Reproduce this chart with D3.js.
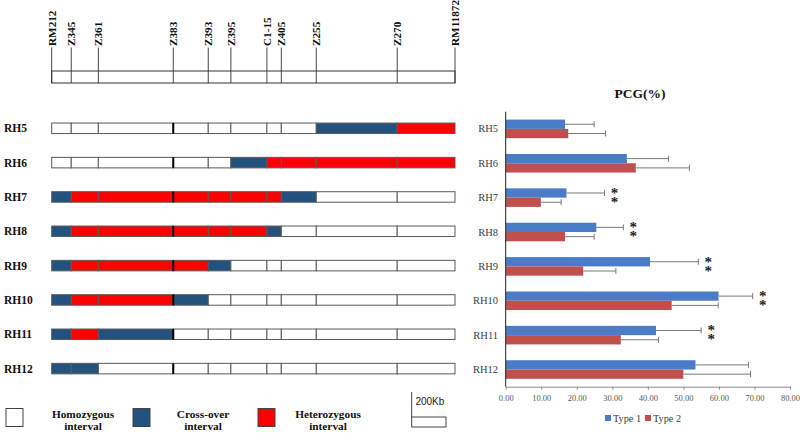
<!DOCTYPE html>
<html><head><meta charset="utf-8">
<script src="https://cdn.jsdelivr.net/npm/d3@7"></script>
<style>body{margin:0;background:#fff}svg{display:block}</style>
</head><body>
<script>
// ---------- data ----------
const markers = ["RM212","Z345","Z361","Z383","Z393","Z395","C1-15","Z405","Z255","Z270","RM11872"];
const markerKb = [0,114,272,709,913,1045,1255,1339,1543,2015,2352];
const rows = ["RH5","RH6","RH7","RH8","RH9","RH10","RH11","RH12"];
// H = homozygous, C = cross-over, E = heterozygous (per interval between markers)
const genotypes = [
  ["H","H","H","H","H","H","H","H","C","E"],
  ["H","H","H","H","H","C","E","E","E","E"],
  ["C","E","E","E","E","E","E","C","H","H"],
  ["C","E","E","E","E","E","C","H","H","H"],
  ["C","E","E","E","C","H","H","H","H","H"],
  ["C","E","E","C","H","H","H","H","H","H"],
  ["C","E","C","H","H","H","H","H","H","H"],
  ["C","C","H","H","H","H","H","H","H","H"]
];
const legendItems = [["H","Homozygous","interval"],["C","Cross-over","interval"],["E","Heterozygous","interval"]];
const scaleKb = 200;
const type1 = [16.7,34.1,17.1,25.5,40.6,59.9,42.3,53.4];
const type1Err = [8.2,11.7,10.7,7.6,13.6,9.6,12.7,14.9];
const type2 = [17.6,36.6,9.9,16.7,21.8,46.7,32.4,50.0];
const type2Err = [10.5,15.1,5.7,8.2,9.2,13.1,10.6,18.9];
const sig = ["","","**","**","**","**","**",""];
const xTicks = [0,10,20,30,40,50,60,70,80];
const seriesNames = ["Type 1","Type 2"];

const W=800,H=434;
const serif = "'Liberation Serif','Times New Roman',serif";
const fillOf = {H:"#ffffff", C:"#23527f", E:"#ff0000"};

const svg = d3.select("body").append("svg").attr("width",W).attr("height",H);

// ---------- genotype map ----------
const gx = d3.scaleLinear().domain([0, d3.max(markerKb)]).range([51.7,455]);

// ruler
const ruler = svg.append("g");
ruler.append("rect").attr("x",gx(0)).attr("y",71).attr("width",gx(d3.max(markerKb))-gx(0)).attr("height",12)
  .attr("fill","#fff").attr("stroke","#333").attr("stroke-width",1);
ruler.selectAll("line.m").data(markerKb).join("line").attr("class","m")
  .attr("x1",d=>gx(d)).attr("x2",d=>gx(d)).attr("y1",47.5).attr("y2",83)
  .attr("stroke","#333").attr("stroke-width",0.9);
ruler.selectAll("text").data(markers).join("text")
  .attr("transform",(d,i)=>`translate(${gx(markerKb[i])+4},46) rotate(-90)`)
  .attr("font-family",serif).attr("font-weight","bold").attr("font-size",11.2)
  .attr("fill","#111").text(d=>d);

// rows
const gy = d3.scalePoint().domain(rows).range([128.3,368.6]);
const segH = 10.5;
rows.forEach((r,ri)=>{
  const g = svg.append("g");
  const segs = genotypes[ri].map((t,i)=>({t, a:markerKb[i], b:markerKb[i+1]}));
  g.selectAll("rect").data(segs).join("rect")
    .attr("x",d=>gx(d.a)).attr("width",d=>gx(d.b)-gx(d.a))
    .attr("y",gy(r)-segH/2).attr("height",segH)
    .attr("fill",d=>fillOf[d.t]).attr("stroke","#5a5a5a").attr("stroke-width",1);
  // thick boundary at Z383
  g.append("line").attr("x1",gx(markerKb[3])).attr("x2",gx(markerKb[3]))
    .attr("y1",gy(r)-segH/2).attr("y2",gy(r)+segH/2).attr("stroke","#000").attr("stroke-width",2);
  g.append("text").attr("x",4).attr("y",gy(r)+4)
    .attr("font-family",serif).attr("font-weight","bold").attr("font-size",11.5).attr("fill","#111").text(r);
});

// legend
const legX = [6,133,258];
const legTextX = [83,203,328];
legendItems.forEach((d,i)=>{
  svg.append("rect").attr("x",legX[i]).attr("y",408.5).attr("width",17).attr("height",18)
    .attr("fill",fillOf[d[0]]).attr("stroke","#444").attr("stroke-width",1);
  const t = svg.append("text").attr("text-anchor","middle").attr("font-family",serif)
    .attr("font-weight","bold").attr("font-size",11.3).attr("fill","#111");
  t.append("tspan").attr("x",legTextX[i]).attr("y",418).text(d[1]);
  t.append("tspan").attr("x",legTextX[i]).attr("y",429.5).text(d[2]);
});
// scale bar
const sbX = 411.7, sbW = gx(scaleKb)-gx(0);
svg.append("rect").attr("x",sbX).attr("y",417).attr("width",sbW).attr("height",10)
  .attr("fill","#fff").attr("stroke","#444");
svg.append("line").attr("x1",sbX).attr("x2",sbX).attr("y1",392).attr("y2",417).attr("stroke","#444");
svg.append("text").attr("x",sbX+sbW/2+1).attr("y",404.5).attr("text-anchor","middle")
  .attr("font-family","'Liberation Sans',Arial,sans-serif").attr("font-size",10).attr("fill","#222").text(scaleKb+"Kb");

// ---------- bar chart ----------
const bx = d3.scaleLinear().domain([0,80]).range([505.7,790]);
const by = d3.scaleBand().domain(rows).range([111.7,386.7]).paddingInner(0.46).paddingOuter(0.23);
const bh = by.bandwidth()/2;
const cBlue="#4a7cc7", cRed="#c0504d", cErr="#7a7a7a";

svg.append("text").attr("x",640).attr("y",98).attr("text-anchor","middle")
  .attr("font-family",serif).attr("font-weight","bold").attr("font-size",13.5).attr("fill","#111").text("PCG(%)");

const series = [
  {name:seriesNames[0], vals:type1, errs:type1Err, color:cBlue, off:0},
  {name:seriesNames[1], vals:type2, errs:type2Err, color:cRed, off:1}
];
series.forEach(s=>{
  const g = svg.append("g");
  g.selectAll("rect").data(rows).join("rect")
    .attr("x",bx(0)).attr("y",d=>by(d)+s.off*bh)
    .attr("width",(d,i)=>bx(s.vals[i])-bx(0)).attr("height",bh).attr("fill",s.color);
  g.selectAll("line.e").data(rows).join("line").attr("class","e")
    .attr("x1",(d,i)=>bx(s.vals[i])).attr("x2",(d,i)=>bx(s.vals[i]+s.errs[i]))
    .attr("y1",d=>by(d)+s.off*bh+bh/2).attr("y2",d=>by(d)+s.off*bh+bh/2)
    .attr("stroke",cErr).attr("stroke-width",1);
  g.selectAll("line.c").data(rows).join("line").attr("class","c")
    .attr("x1",(d,i)=>bx(s.vals[i]+s.errs[i])).attr("x2",(d,i)=>bx(s.vals[i]+s.errs[i]))
    .attr("y1",d=>by(d)+s.off*bh+bh/2-3).attr("y2",d=>by(d)+s.off*bh+bh/2+3)
    .attr("stroke",cErr).attr("stroke-width",1);
});

// significance stars: "**" written vertically (upright) so they stack
rows.forEach((r,i)=>{
  if(!sig[i]) return;
  const sx = bx(type1[i]+type1Err[i])+10;
  svg.append("text").attr("x",sx).attr("y",by(r)+bh/2-8)
    .style("writing-mode","vertical-rl").style("text-orientation","upright")
    .style("letter-spacing","-7px")
    .attr("font-family",serif).attr("font-weight","bold").attr("font-size",15).attr("fill","#222")
    .text(sig[i]);
});

// axes
const xAxis = svg.append("g").attr("transform",`translate(0,${386.7})`)
  .call(d3.axisBottom(bx).tickValues(xTicks).tickFormat(d3.format(".2f")).tickSize(3).tickSizeOuter(0));
xAxis.select(".domain").attr("stroke","#8c8c8c");
xAxis.selectAll(".tick line").attr("stroke","#8c8c8c");
xAxis.selectAll("text").attr("font-family",serif).attr("font-size",8.5).attr("fill","#595959").attr("dy","1.0em");

svg.append("line").attr("x1",bx(0)).attr("x2",bx(0)).attr("y1",111.7).attr("y2",386.7).attr("stroke","#222").attr("stroke-width",1);
svg.selectAll("text.cat").data(rows).join("text").attr("class","cat")
  .attr("x",498).attr("y",d=>by(d)+by.bandwidth()/2+3.5).attr("text-anchor","end")
  .attr("font-family",serif).attr("font-size",10.5).attr("fill","#404040").text(d=>d);

// series legend
const lg = svg.append("g");
const lgX = [605,645];
series.forEach((s,i)=>{
  lg.append("rect").attr("x",lgX[i]).attr("y",415).attr("width",6).attr("height",6).attr("fill",s.color);
  lg.append("text").attr("x",lgX[i]+8).attr("y",421.5).attr("font-family",serif).attr("font-size",10.3)
    .attr("fill","#404040").text(s.name);
});
</script>
</body></html>
